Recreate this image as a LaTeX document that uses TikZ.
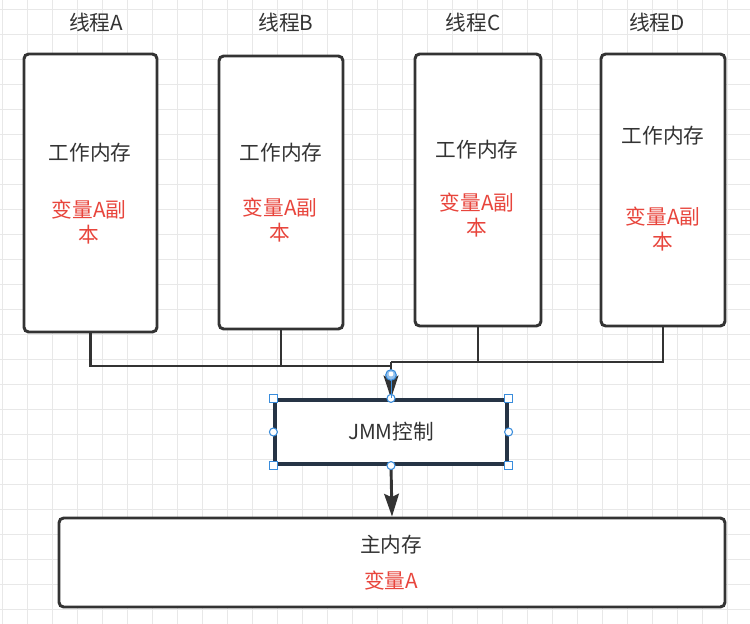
\documentclass[tikz,border=0pt]{standalone}
\usepackage{fontspec}
\usetikzlibrary{arrows.meta}
\newfontfamily\cjk{Noto Sans CJK SC}
\definecolor{inkc}{HTML}{333333}
\definecolor{redc}{HTML}{E8453C}
\definecolor{jmmc}{HTML}{263445}
\definecolor{selc}{HTML}{3A8DDC}
\definecolor{gridc}{HTML}{E8E8E8}
\tikzset{
	membox/.style={draw=inkc, line width=2.2pt, rounded corners=3.5pt, fill=white},
	label/.style={text=inkc, font=\cjk\fontsize{15.5}{18}\selectfont, inner sep=0pt},
	redlabel/.style={text=redc, font=\cjk\fontsize{15.5}{18.75}\selectfont, align=center, inner sep=0pt},
	link/.style={draw=inkc, line width=2.2pt},
	handle/.style={draw=selc, fill=white, line width=0.8pt},
	tip/.style={-{Stealth[length=17pt, width=11pt, inset=2.5pt]}},
}
\begin{document}
\begin{tikzpicture}[x=0.75pt,y=-0.75pt]
	% background and grid
	\fill[white] (0,0) rectangle (750,624);
	\useasboundingbox (0,0) rectangle (750,624);
	\foreach \gx in {2,27,...,752}
		\draw[gridc, line width=0.7pt] (\gx,0) -- (\gx,624);
	\foreach \gy in {9,34,...,624}
		\draw[gridc, line width=0.7pt] (0,\gy) -- (750,\gy);

	% threads
	\node[label] (la) at (96,23) {线程A};
	\node[label] (lb) at (286,23) {线程B};
	\node[label] (lc) at (473,23) {线程C};
	\node[label] (ld) at (657,23) {线程D};

	\node[membox, minimum width=99.75pt, minimum height=208.5pt] (ta) at (90.5,193) {};
	\node[membox, minimum width=93pt, minimum height=204.75pt] (tb) at (281,192.5) {};
	\node[membox, minimum width=94.5pt, minimum height=204pt] (tc) at (478,190) {};
	\node[membox, minimum width=93pt, minimum height=204pt] (td) at (663,190) {};

	\node[label] (wa) at (90,153) {工作内存};
	\node[redlabel] (ca) at (89,222) {变量A副\\本};
	\node[label] (wb) at (281,153) {工作内存};
	\node[redlabel] (cb) at (280,220) {变量A副\\本};
	\node[label] (wc) at (477,150) {工作内存};
	\node[redlabel] (cc) at (477,215) {变量A副\\本};
	\node[label] (wd) at (663,136) {工作内存};
	\node[redlabel] (cd) at (663,229) {变量A副\\本};

	% JMM and main memory
	\node[draw=jmmc, line width=2.4pt, fill=white, minimum width=174pt, minimum height=48pt,
		label] (jmm) at (391,432) {JMM控制};
	\node[membox, minimum width=499.5pt, minimum height=66.75pt] (mm) at (392,562.5) {};
	\node[label] (mt) at (391,545) {主内存};
	\node[redlabel] (mv) at (391,581) {变量A};

	% connectors
	\coordinate (jl) at (391,366);
	\coordinate (jr) at (391,362);
	\draw[link] (ta.south) |- (jl);
	\draw[link] (tb.south) -- (tb.south |- jl);
	\draw[link] (td.south) |- (jr);
	\draw[link] (tc.south) -- (tc.south |- jr);
	\draw[link] (jr) -- (jl);
	\draw[link, tip] (jl) -- (jmm.north);
	\draw[link, tip] (jmm.south) -- (mm.north);

	% selection handles
	\foreach \h in {north west, north east, south west, south east}
		\draw[handle] ([xshift=-3pt,yshift=-3pt]jmm.\h) rectangle ++(6pt,6pt);
	\foreach \h in {north, south, east, west}
		\draw[handle] (jmm.\h) circle (3pt);
	\draw[selc, line width=0.6pt] (391,375) -- (jmm.north);
	\draw[handle, fill=selc!55] (391,375) circle (4pt);
	\fill[white] (391,374) circle (1.8pt);
\end{tikzpicture}
\end{document}
